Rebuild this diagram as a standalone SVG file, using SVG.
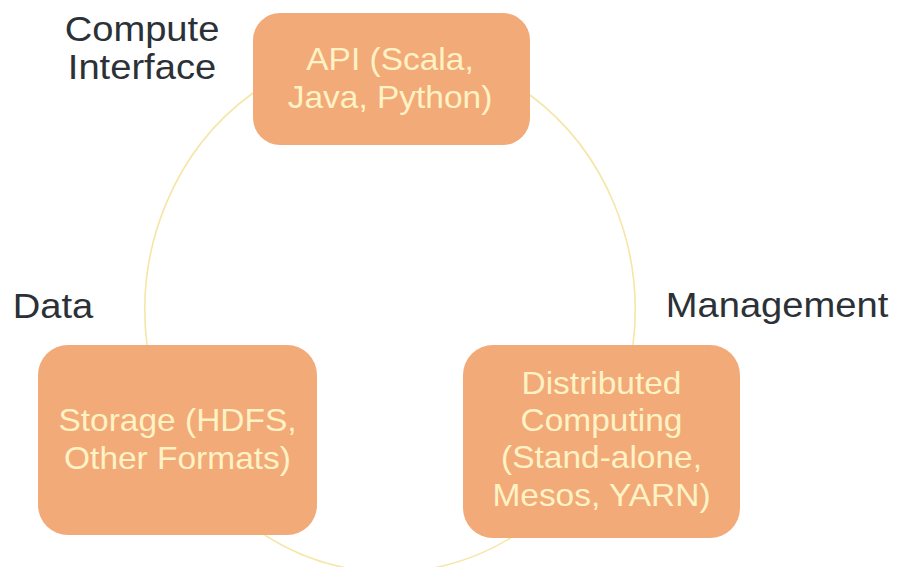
<svg xmlns="http://www.w3.org/2000/svg" width="897" height="567" viewBox="0 0 897 567">
  <style>
    .box { fill: #f2aa79; }
    .box-text { font-family: "Liberation Sans", Arial, sans-serif; font-size: 31px; fill: #fff2c4; text-anchor: middle; }
    .label { font-family: "Liberation Sans", Arial, sans-serif; font-size: 35px; fill: #2b3136; text-anchor: middle; }
    .link { fill: none; stroke: #f6e6a6; stroke-width: 1.6; }
  </style>
  <rect width="897" height="567" fill="#ffffff"/>

  <!-- elliptical ring joining the three components -->
  <g id="connectors">
    <path class="link" d="M 253 93 A 245 262 0 0 0 147 345"/>
    <path class="link" d="M 264.5 535 A 245 262 0 0 0 510.7 538"/>
    <path class="link" d="M 633 345 A 245 262 0 0 0 530 95"/>
  </g>

  <g id="api">
    <rect class="box" x="253" y="13" width="277" height="132" rx="27"/>
    <g transform="translate(390 0) scale(1.08 1)">
      <text class="box-text" x="0" y="70">API (Scala,</text>
      <text class="box-text" x="0" y="108">Java, Python)</text>
    </g>
  </g>

  <g id="storage">
    <rect class="box" x="38" y="345" width="279" height="190" rx="30"/>
    <g transform="translate(177.5 0) scale(1.08 1)">
      <text class="box-text" x="0" y="431">Storage (HDFS,</text>
      <text class="box-text" x="0" y="469">Other Formats)</text>
    </g>
  </g>

  <g id="distributed">
    <rect class="box" x="463" y="345" width="277" height="193" rx="30"/>
    <g transform="translate(601.5 0) scale(1.08 1)">
      <text class="box-text" x="0" y="394">Distributed</text>
      <text class="box-text" x="0" y="431">Computing</text>
      <text class="box-text" x="0" y="468">(Stand-alone,</text>
      <text class="box-text" x="0" y="506">Mesos, YARN)</text>
    </g>
  </g>

  <g id="label-compute">
    <g transform="translate(142 0) scale(1.09 1)">
      <text class="label" x="0" y="41">Compute</text>
      <text class="label" x="0" y="79">Interface</text>
    </g>
  </g>

  <g id="label-data">
    <g transform="translate(53 0) scale(1.09 1)">
      <text class="label" x="0" y="318">Data</text>
    </g>
  </g>

  <g id="label-management">
    <g transform="translate(777 0) scale(1.09 1)">
      <text class="label" x="0" y="317">Management</text>
    </g>
  </g>
</svg>
